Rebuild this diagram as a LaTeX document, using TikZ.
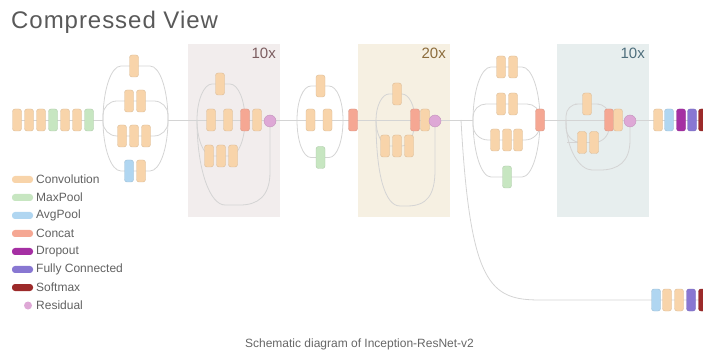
\documentclass[tikz,border=0pt]{standalone}
\usepackage{fontspec}
\setmainfont{Liberation Sans}
\usetikzlibrary{backgrounds}
\definecolor{convcol}{HTML}{F8D4AA}
\definecolor{maxcol}{HTML}{C7E6C1}
\definecolor{avgcol}{HTML}{B0D6F1}
\definecolor{catcol}{HTML}{F5A793}
\definecolor{dropcol}{HTML}{A52FA3}
\definecolor{fccol}{HTML}{8877D2}
\definecolor{smaxcol}{HTML}{9C2A2A}
\definecolor{rescol}{HTML}{DEA8D6}
\definecolor{boxa}{HTML}{F2EDED}
\definecolor{boxb}{HTML}{F6F0E2}
\definecolor{boxc}{HTML}{E7EEEE}
\definecolor{texta}{HTML}{7C5D60}
\definecolor{textb}{HTML}{8C6C3C}
\definecolor{textc}{HTML}{4E6E7C}
\begin{document}
\begin{tikzpicture}[x=1pt, y=-1pt,
  link/.style={draw=black!17, line width=0.8pt},
  blk/.style={rectangle, rounded corners=2.5pt, minimum width=9pt, minimum height=22pt, inner sep=0pt, line width=0.4pt},
  conv/.style={blk, fill=convcol, draw=convcol!88!black},
  maxp/.style={blk, fill=maxcol, draw=maxcol!88!black},
  avgp/.style={blk, fill=avgcol, draw=avgcol!88!black},
  cat/.style={blk, fill=catcol, draw=catcol!88!black},
  drop/.style={blk, fill=dropcol, draw=dropcol!88!black},
  fc/.style={blk, fill=fccol, draw=fccol!88!black},
  smax/.style={blk, fill=smaxcol, draw=smaxcol!88!black},
  res/.style={circle, minimum size=12pt, inner sep=0pt, fill=rescol, draw=rescol!88!black, line width=0.4pt},
  key/.style={rectangle, rounded corners=3pt, minimum width=21pt, minimum height=7pt, inner sep=0pt},
  keytext/.style={anchor=west, inner sep=0pt, font=\fontsize{12}{14}\selectfont, text=black!62},
  times/.style={anchor=base east, inner sep=0pt, font=\fontsize{15}{18}\selectfont},
]
\useasboundingbox (0,0) rectangle (703,352);

\node[anchor=base west, inner sep=0pt, font=\fontsize{24}{28}\selectfont\addfontfeatures{LetterSpace=4}, text=black!65] (title) at (11,29) {Compressed View};
\node[inner sep=0pt, font=\fontsize{12}{14}\selectfont, text=black!60] (caption) at (359.5,344) {Schematic diagram of Inception-ResNet-v2};

% split and merge points
\coordinate (s1) at (103,120);
\coordinate (m1) at (168,120);
\coordinate (s2) at (197,120);
\coordinate (s3) at (297,120);
\coordinate (m3) at (343,120);
\coordinate (s4) at (376,120);
\coordinate (a0) at (461,120);
\coordinate (a1) at (540,300);
\coordinate (s5) at (473,120);
\coordinate (s6) at (566,120);

% stem
\node[conv] (st1) at (17,120) {};
\node[conv] (st2) at (29,120) {};
\node[conv] (st3) at (41,120) {};
\node[maxp] (st4) at (53,120) {};
\node[conv] (st5) at (65,120) {};
\node[conv] (st6) at (77,120) {};
\node[maxp] (st7) at (89,120) {};

% mixed block
\node[conv] (b1a) at (134,66) {};
\node[conv] (b1b) at (129,101) {};
\node[conv] (b1c) at (141,101) {};
\node[conv] (b1d) at (122,136) {};
\node[conv] (b1e) at (134,136) {};
\node[conv] (b1f) at (146,136) {};
\node[avgp] (b1g) at (129,171) {};
\node[conv] (b1h) at (141,171) {};

% block A, 10x
\node[conv] (a2t) at (220,84) {};
\node[conv] (a2m) at (211,120) {};
\node[conv] (a2n) at (228,120) {};
\node[conv] (a2b) at (209,156) {};
\node[conv] (a2c) at (221,156) {};
\node[conv] (a2d) at (233,156) {};
\node[cat] (c2) at (245,120) {};
\node[conv] (a2o) at (257,120) {};
\node[res] (r2) at (270,121) {};

% reduction A
\node[conv] (a3t) at (320.5,86) {};
\node[conv] (a3m) at (310.5,120) {};
\node[conv] (a3n) at (327.5,120) {};
\node[maxp] (a3b) at (320.5,157.5) {};
\node[cat] (c3) at (353,120) {};

% block B, 20x
\node[conv] (a4t) at (397,94) {};
\node[conv] (a4b) at (385,146) {};
\node[conv] (a4c) at (397,146) {};
\node[conv] (a4d) at (409,146) {};
\node[cat] (c4) at (415,120) {};
\node[conv] (a4o) at (425,120) {};
\node[res] (r4) at (435,121) {};

% reduction B
\node[conv] (a5a) at (501,67) {};
\node[conv] (a5b) at (513,67) {};
\node[conv] (a5c) at (501,104) {};
\node[conv] (a5d) at (513,104) {};
\node[conv] (a5e) at (495,140) {};
\node[conv] (a5f) at (507,140) {};
\node[conv] (a5g) at (518,140) {};
\node[maxp] (a5h) at (507,177) {};
\node[cat] (c5) at (540,120) {};

% block C, 10x
\node[conv] (a6t) at (587,104) {};
\node[conv] (a6b) at (582,142.5) {};
\node[conv] (a6c) at (594,142.5) {};
\node[cat] (c6) at (609,120) {};
\node[conv] (a6o) at (618,120) {};
\node[res] (r6) at (630,121) {};

% head
\node[conv] (o1) at (658,120) {};
\node[avgp] (o2) at (669,120) {};
\node[drop] (o3) at (681,120) {};
\node[fc] (o4) at (692,120) {};
\node[smax] (o5) at (703,120) {};

% auxiliary head
\node[avgp] (x1) at (656,300) {};
\node[conv] (x2) at (667,300) {};
\node[conv] (x3) at (679,300) {};
\node[fc] (x4) at (691,300) {};
\node[smax] (x5) at (703,300) {};

% legend
\node[key, fill=convcol] (k1) at (22.5,179.5) {};
\node[keytext] (l1) at (36,179.5) {Convolution};
\node[key, fill=maxcol] (k2) at (22.5,197.5) {};
\node[keytext] (l2) at (36,197.5) {MaxPool};
\node[key, fill=avgcol] (k3) at (22.5,215.5) {};
\node[keytext] (l3) at (36,215.5) {AvgPool};
\node[key, fill=catcol] (k4) at (22.5,233.5) {};
\node[keytext] (l4) at (36,233.5) {Concat};
\node[key, fill=dropcol] (k5) at (22.5,251.5) {};
\node[keytext] (l5) at (36,251.5) {Dropout};
\node[key, fill=fccol] (k6) at (22.5,269.5) {};
\node[keytext] (l6) at (36,269.5) {Fully Connected};
\node[key, fill=smaxcol] (k7) at (22.5,287.5) {};
\node[keytext] (l7) at (36,287.5) {Softmax};
\node[circle, inner sep=0pt, minimum size=8pt, fill=rescol] (k8) at (28,305.5) {};
\node[keytext] (l8) at (36,305.5) {Residual};

\begin{scope}[on background layer]
% repeat boxes
\fill[boxa] (188,44) rectangle (280,217);
\fill[boxb] (358,44) rectangle (450,217);
\fill[boxc] (557,44) rectangle (649,217);
\node[times, text=texta] (ta) at (276,59) {10x};
\node[times, text=textb] (tb) at (446,59) {20x};
\node[times, text=textc] (tc) at (645,59) {10x};

% main line
\draw[link] (st1.center) -- (s1);
\draw[link] (m1) -- (s5);
\draw[link] (c5.center) -- (o5.center);

% mixed block
\draw[link] (s1) .. controls +(0,-30) and +(-10,0) .. +(18,-54) -- (150,66) .. controls +(10,0) and +(0,-30) .. (m1);
\draw[link, rounded corners=14pt] (s1) |- (b1b.center) -| (m1);
\draw[link, rounded corners=14pt] (s1) |- (b1e.center) -| (m1);
\draw[link] (s1) .. controls +(0,28) and +(-10,0) .. +(18,51) -- (150,171) .. controls +(10,0) and +(0,28) .. (m1);

% block A
\draw[link] (s2) .. controls +(0,-20) and +(-8,0) .. +(15,-36) -- (230,84) .. controls +(8,0) and +(0,-20) .. (c2.center);
\draw[link] (s2) .. controls +(0,20) and +(-8,0) .. +(15,36) -- (230,156) .. controls +(8,0) and +(0,20) .. (c2.center);
\draw[link] (s2) .. controls +(0,50) and +(-15,0) .. (225,205) -- (240,205) .. controls +(17,0) and +(0,25) .. (270,172) -- (r2.center);

% reduction A
\draw[link] (s3) .. controls +(0,-19) and +(-8,0) .. +(14,-34) -- (329,86) .. controls +(8,0) and +(0,-19) .. (m3);
\draw[link] (s3) .. controls +(0,21) and +(-8,0) .. +(14,37.5) -- (329,157.5) .. controls +(8,0) and +(0,21) .. (m3);

% block B
\draw[link] (s4) .. controls +(0,-14) and +(-7,0) .. +(13,-26) -- (402,94) .. controls +(7,0) and +(0,-14) .. (c4.center);
\draw[link] (s4) .. controls +(0,14) and +(-7,0) .. +(13,26) -- (402,146) .. controls +(7,0) and +(0,14) .. (c4.center);
\draw[link] (s4) .. controls +(0,55) and +(-15,0) .. (400,206) -- (407,206) .. controls +(20,0) and +(0,25) .. (435,170) -- (r4.center);

% reduction B
\draw[link] (s5) .. controls +(0,-29) and +(-10,0) .. +(18,-53) -- (522,67) .. controls +(10,0) and +(0,-29) .. (c5.center);
\draw[link, rounded corners=13pt] (s5) |- (a5c.center) -| (c5.center);
\draw[link, rounded corners=15pt] (s5) |- (a5f.center) -| (c5.center);
\draw[link] (s5) .. controls +(0,31) and +(-10,0) .. +(18,57) -- (522,177) .. controls +(10,0) and +(0,31) .. (c5.center);

% block C
\draw[link, rounded corners=12pt] (s6) |- (a6t.center) -| (c6.center);
\draw[link, rounded corners=15pt] (s6) |- (a6b.center) -| (c6.center);
\draw[link] (s6) .. controls +(0,30) and +(-12,0) .. (592,170) -- (600,170) .. controls +(18,0) and +(0,22) .. (630,140) -- (r6.center);

% auxiliary branch
\draw[link] (a0) .. controls (470,285) and (490,300) .. (a1) -- (x5.center);
\end{scope}
\end{tikzpicture}
\end{document}
